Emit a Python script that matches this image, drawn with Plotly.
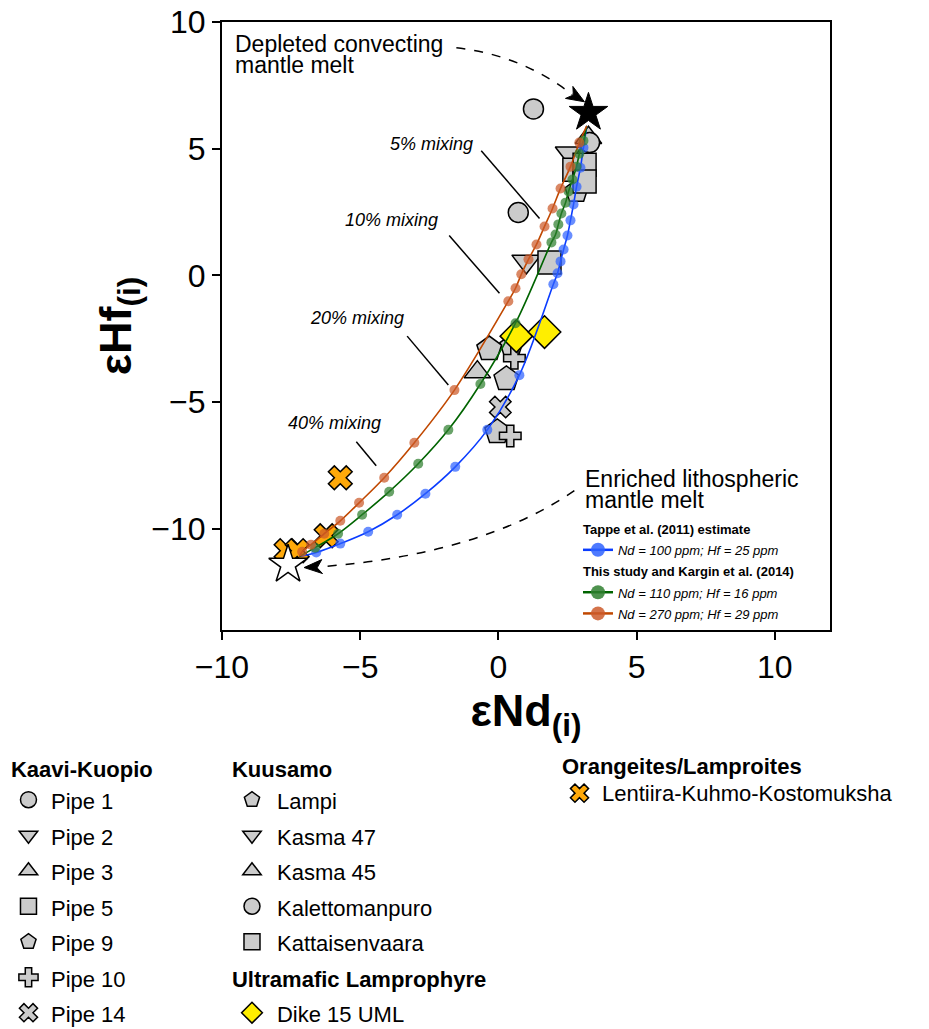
import plotly.graph_objects as go

# ---------------- sample data (eNd(i), eHf(i)) ----------------
pipe1_nd = [1.27, 0.72]
pipe1_hf = [6.57, 2.48]
pipe2_nd = [1.01]
pipe2_hf = [0.55]
pipe3_nd = [-0.76]
pipe3_hf = [-3.82]
pipe5_nd = [1.85]
pipe5_hf = [0.51]
pipe9_nd = [-0.33, 0.29, -0.04]
pipe9_hf = [-2.91, -4.09, -6.18]
pipe10_nd = [0.58, 0.43]
pipe10_hf = [-3.27, -6.34]
pipe14_nd = [0.07]
pipe14_hf = [-5.20]

lampi_nd = [2.83, 0.47]
lampi_hf = [3.31, -2.80]
kasma47_nd = [2.54]
kasma47_hf = [4.84]
kasma45_nd = [3.26]
kasma45_hf = [5.43]
kalet_nd = [3.30]
kalet_hf = [5.24]
kattai_nd = [2.75, 3.12, 3.12]
kattai_hf = [4.17, 4.37, 3.70]

dike15_nd = [0.65, 1.67]
dike15_hf = [-2.40, -2.24]

lkk_nd = [-5.72, -6.23, -7.68, -7.28]
lkk_hf = [-7.99, -10.28, -10.87, -10.87]

# ---------------- end-members ----------------
depleted_nd = [3.26]
depleted_hf = [6.42]
enriched_nd = [-7.61]
enriched_hf = [-11.42]
curve_start = [3.20, 5.90]    # depleted end of mixing curves
curve_end = [-7.20, -11.10]   # enriched end of mixing curves

# ---------------- mixing curve dots (1-10 %, 20-90 % enriched melt) ----------------
blue_nd = [3.08, 2.97, 2.83, 2.72, 2.61, 2.50, 2.36, 2.25, 2.14, 1.99,
           0.76, -0.40, -1.56, -2.64, -3.66, -4.71, -5.72, -6.59]
blue_hf = [5.04, 4.25, 3.50, 2.80, 2.17, 1.57, 1.02, 0.55, 0.08, -0.35,
           -3.94, -6.10, -7.56, -8.62, -9.45, -10.12, -10.59, -10.94]
green_nd = [3.08, 2.93, 2.83, 2.68, 2.54, 2.43, 2.28, 2.17, 2.07, 1.92,
            0.62, -0.65, -1.81, -2.90, -3.95, -4.93, -5.80, -6.63]
green_hf = [5.31, 4.80, 4.29, 3.78, 3.31, 2.87, 2.44, 2.01, 1.61, 1.30,
            -1.89, -4.29, -6.10, -7.44, -8.54, -9.45, -10.20, -10.75]
orange_nd = [2.93, 2.61, 2.25, 1.96, 1.67, 1.38, 1.09, 0.83, 0.62, 0.36,
             -1.59, -3.04, -4.13, -5.04, -5.72, -6.30, -6.78, -7.10]
orange_hf = [5.24, 4.29, 3.43, 2.64, 1.93, 1.22, 0.63, 0.04, -0.51, -1.02,
             -4.53, -6.61, -7.99, -8.98, -9.69, -10.20, -10.63, -10.91]

curve_names = ["Nd = 100 ppm; Hf = 25 ppm", "Nd = 110 ppm; Hf = 16 ppm", "Nd = 270 ppm; Hf = 29 ppm"]

# ---------------- styles ----------------
GRAY = "#cbcbcb"
EDGE = dict(color="black", width=1.5)
TXT = dict(family="Arial, Liberation Sans, sans-serif", color="black")
LEG_TXT = '<span style="font-size:22px">{}</span>'
LEG_TTL = '<span style="font-size:22px"><b>{}</b></span>'

fig = go.Figure()


def sample(nd, hf, name, symbol, size, legend, group, title, tsize, color=GRAY):
    fig.add_trace(go.Scatter(
        x=nd, y=hf, mode="markers", name=LEG_TXT.format(name),
        marker=dict(symbol=symbol, size=size, color=color, line=EDGE),
        legend=legend, legendgroup=group,
        legendgrouptitle=dict(text=LEG_TTL.format(title), font=dict(size=tsize, **TXT)),
        hoverinfo="x+y"))


# Kuusamo
sample(lampi_nd, lampi_hf, "Lampi", "pentagon", 24, "legend2", "ku", "Kuusamo", 12)
sample(kasma47_nd, kasma47_hf, "Kasma 47", "triangle-down", 23, "legend2", "ku", "Kuusamo", 12)
sample(kasma45_nd, kasma45_hf, "Kasma 45", "triangle-up", 23, "legend2", "ku", "Kuusamo", 12)
sample(kalet_nd, kalet_hf, "Kalettomanpuro", "circle", 20, "legend2", "ku", "Kuusamo", 12)
sample(kattai_nd, kattai_hf, "Kattaisenvaara", "square", 23, "legend2", "ku", "Kuusamo", 12)
# Kaavi-Kuopio
sample(pipe1_nd, pipe1_hf, "Pipe 1", "circle", 20, "legend", "kk", "Kaavi-Kuopio", 12)
sample(pipe2_nd, pipe2_hf, "Pipe 2", "triangle-down", 25, "legend", "kk", "Kaavi-Kuopio", 12)
sample(pipe3_nd, pipe3_hf, "Pipe 3", "triangle-up", 23, "legend", "kk", "Kaavi-Kuopio", 12)
sample(pipe5_nd, pipe5_hf, "Pipe 5", "square", 23, "legend", "kk", "Kaavi-Kuopio", 12)
sample(pipe9_nd, pipe9_hf, "Pipe 9", "pentagon", 26, "legend", "kk", "Kaavi-Kuopio", 12)
sample(pipe10_nd, pipe10_hf, "Pipe 10", "cross", 18, "legend", "kk", "Kaavi-Kuopio", 12)
sample(pipe14_nd, pipe14_hf, "Pipe 14", "x", 19, "legend", "kk", "Kaavi-Kuopio", 12)
# UML
sample(dike15_nd, dike15_hf, "Dike 15 UML", "diamond", 25, "legend2", "uml", "Ultramafic Lamprophyre", 25, "#ffee00")
# Orangeites
sample(lkk_nd, lkk_hf, "Lentiira-Kuhmo-Kostomuksha", "x", 21, "legend3", "ol", "Orangeites/Lamproites", 12, "#ffa90a")

# ---------------- mixing curves ----------------
curves = [
    (blue_nd, blue_hf, "#0a3cff", "#2f63ff", "tappe", "Tappe et al. (2011) estimate"),
    (green_nd, green_hf, "#006400", "#2f7f2f", "this", "This study and Kargin et al. (2014)"),
    (orange_nd, orange_hf, "#c04800", "#cc5a2a", "this", "This study and Kargin et al. (2014)"),
]
for (nd, hf, lc, dc, grp, gt), nm in zip(curves, curve_names):
    fig.add_trace(go.Scatter(
        x=[curve_start[0]] + nd + [curve_end[0]], y=[curve_start[1]] + hf + [curve_end[1]],
        mode="lines", line=dict(color=lc, width=1.6, shape="spline", smoothing=1.0),
        showlegend=False, hoverinfo="skip"))
for (nd, hf, lc, dc, grp, gt), nm in zip(curves, curve_names):
    fig.add_trace(go.Scatter(
        x=nd, y=hf, mode="markers", marker=dict(size=10, color=dc, opacity=0.72),
        showlegend=False, hoverinfo="x+y"))
for (nd, hf, lc, dc, grp, gt), nm in zip(curves, curve_names):
    fig.add_trace(go.Scatter(
        x=[None], y=[None], mode="lines+markers", name='<span style="font-size:13px"><i>%s</i></span>' % nm,
        line=dict(color=lc, width=2.5), marker=dict(size=14, color=dc, opacity=0.85),
        legend="legend4", legendgroup=grp,
        legendgrouptitle=dict(text='<span style="font-size:13px"><b>%s</b></span>' % gt,
                              font=dict(size=14, **TXT))))

# ---------------- end-member stars ----------------
fig.add_trace(go.Scatter(x=depleted_nd, y=depleted_hf, mode="markers", showlegend=False,
                         marker=dict(symbol="star", size=29, color="black", line=dict(color="black", width=1))))
fig.add_trace(go.Scatter(x=enriched_nd, y=enriched_hf, mode="markers", showlegend=False,
                         marker=dict(symbol="star", size=29, color="white", line=dict(color="black", width=1.5))))

# ---------------- annotations ----------------
BIG = '<span style="font-size:23px">{}</span>'
ann = []
ann.append(dict(x=-9.60, y=9.72, text=BIG.format("Depleted convecting") + "<br>" + BIG.format("mantle melt"),
                xanchor="left", yanchor="top", align="left", showarrow=False, font=dict(size=16, **TXT)))
ann.append(dict(x=3.08, y=-7.45, text=BIG.format("Enriched lithospheric") + "<br>" + BIG.format("mantle melt"),
                xanchor="left", yanchor="top", align="left", showarrow=False, font=dict(size=16, **TXT)))
mix_text = [("5% mixing", -2.43, 5.20), ("10% mixing", -3.88, 2.20),
            ("20% mixing", -5.11, -1.69), ("40% mixing", -5.94, -5.83)]
for t, x, y in mix_text:
    ann.append(dict(x=x, y=y, text="<i>%s</i>" % t, showarrow=False, font=dict(size=18, **TXT)))
for a in ann:
    a.setdefault("xref", "x")
    a.setdefault("yref", "y")

shapes = []
pointer_lines = [(-0.62, 4.92, 1.49, 2.24), (-1.78, 1.57, 0.04, -0.71),
                 (-3.30, -2.40, -1.81, -4.33), (-5.14, -6.57, -4.42, -7.52)]
for x0, y0, x1, y1 in pointer_lines:
    shapes.append(dict(type="line", xref="x", yref="y", x0=x0, y0=y0, x1=x1, y1=y1,
                       line=dict(color="black", width=1.5)))
# dashed curved arrows with filled arrowheads
shapes.append(dict(type="path", xref="x", yref="y", path="M -1.52,8.98 Q 0.83,8.70 2.68,7.13",
                   line=dict(color="black", width=1.5, dash="dash")))
shapes.append(dict(type="path", xref="x", yref="y", path="M 2.75,-8.50 Q -0.62,-11.02 -6.41,-11.50",
                   line=dict(color="black", width=1.5, dash="dash")))
shapes.append(dict(type="path", xref="x", yref="y",
                   path="M 3.116,6.850 L 2.428,6.984 L 2.714,7.118 L 2.696,7.457 Z",
                   fillcolor="black", line=dict(color="black", width=1)))
shapes.append(dict(type="path", xref="x", yref="y",
                   path="M -7.029,-11.535 L -6.391,-11.220 L -6.558,-11.547 L -6.362,-11.772 Z",
                   fillcolor="black", line=dict(color="black", width=1)))

axis_common = dict(showgrid=False, zeroline=False, showline=True, linewidth=2, linecolor="black",
                   mirror=True, ticks="outside", ticklen=8, tickwidth=2, tickcolor="black",
                   ticklabeloverflow="allow", tickfont=dict(size=32, **TXT))

fig.update_layout(
    width=929, height=1029,
    margin=dict(l=222, r=99, t=22, b=399, autoexpand=False),
    plot_bgcolor="white", paper_bgcolor="white",
    font=dict(size=22, **TXT),
    xaxis=dict(range=[-10, 12], tickvals=[-10, -5, 0, 5, 10],
               title=dict(text="<b>εNd<sub>(i)</sub></b>", font=dict(size=45, **TXT), standoff=6),
               **axis_common),
    yaxis=dict(range=[-14, 10], tickvals=[-10, -5, 0, 5, 10],
               title=dict(text="<b>εHf<sub>(i)</sub></b>", font=dict(size=45, **TXT), standoff=6),
               **axis_common),
    annotations=ann,
    shapes=shapes,
    legend=dict(x=-0.3553, y=-0.2105, xanchor="left", yanchor="top", font=dict(size=25, **TXT),
                tracegroupgap=0, bgcolor="rgba(0,0,0,0)", itemwidth=35),
    legend2=dict(x=0.0082, y=-0.2105, xanchor="left", yanchor="top", font=dict(size=25, **TXT),
                 tracegroupgap=0, bgcolor="rgba(0,0,0,0)", itemwidth=40),
    legend3=dict(x=0.551, y=-0.2050, xanchor="left", yanchor="top", font=dict(size=20, **TXT),
                 tracegroupgap=0, bgcolor="rgba(0,0,0,0)", itemwidth=35),
    legend4=dict(x=0.5855, y=0.1924, xanchor="left", yanchor="top", font=dict(size=14, **TXT),
                 tracegroupgap=0, bgcolor="rgba(0,0,0,0)", itemwidth=30),
)

# remove the browser's default 8 px page margin so the figure sits at the window's corner
fig.write_html("out.html", config={"displayModeBar": False},
               post_script="document.body.style.margin='0px';")
